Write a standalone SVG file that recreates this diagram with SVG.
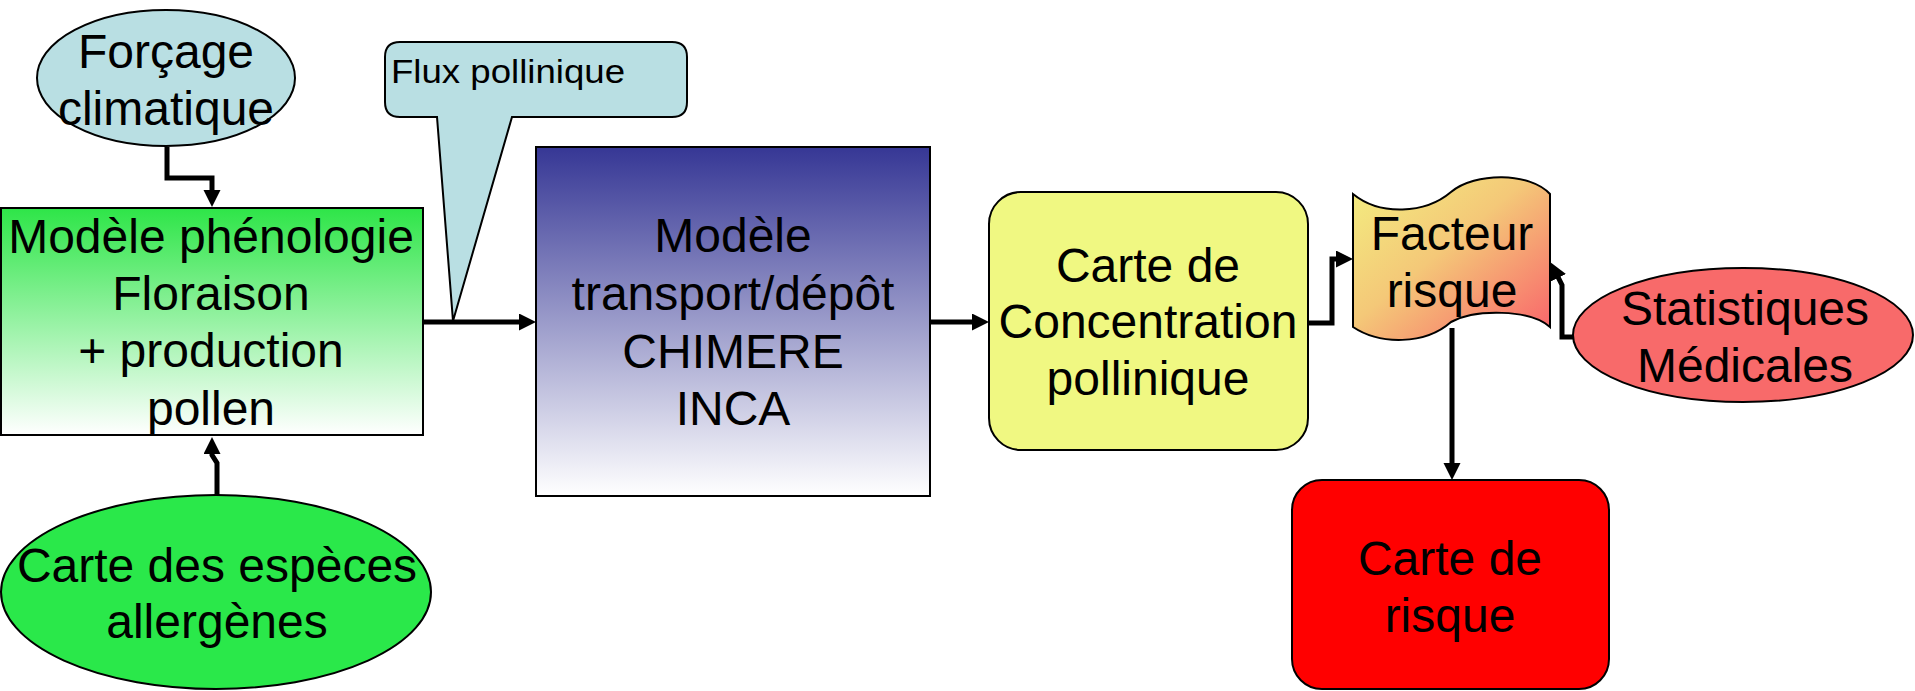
<svg xmlns="http://www.w3.org/2000/svg" width="1915" height="691" viewBox="0 0 1915 691">
<style>
  .shape { stroke: #000; stroke-width: 2; }
  .lbl { font-family: "Liberation Sans", Arial, sans-serif; font-size: 48px; fill: #000; text-anchor: middle; }
  .conn { fill: none; stroke: #000; stroke-width: 5; marker-end: url(#arrow); }
</style>
<defs>
  <marker id="arrow" markerUnits="userSpaceOnUse" markerWidth="18" markerHeight="18" refX="3" refY="8.5" orient="auto">
    <path d="M0,0 L17,8.5 L0,17 Z" fill="#000"/>
  </marker>
  <linearGradient id="gGreen" x1="0" y1="0" x2="0" y2="1">
    <stop offset="0" stop-color="#2ee548"/>
    <stop offset="1" stop-color="#ffffff"/>
  </linearGradient>
  <linearGradient id="gBlue" x1="0" y1="0" x2="0" y2="1">
    <stop offset="0" stop-color="#363795"/>
    <stop offset="1" stop-color="#ffffff"/>
  </linearGradient>
  <linearGradient id="gOrange" x1="0" y1="0" x2="1" y2="1">
    <stop offset="0" stop-color="#f3ef80"/>
    <stop offset="0.45" stop-color="#f4c878"/>
    <stop offset="1" stop-color="#f9606a"/>
  </linearGradient>
</defs>

<g id="connectors">
  <path class="conn" d="M167,147 V178 H212 V193"/>
  <path class="conn" d="M217,495 V463 L212,455 V451"/>
  <path class="conn" d="M423,322 H522"/>
  <path class="conn" d="M930,322 H975"/>
  <path class="conn" d="M1308,323 H1332 V259 H1339"/>
  <path class="conn" d="M1452,328 V466"/>
  <path class="conn" d="M1573,337 H1562 V285 L1557,275"/>
</g>

<g id="forcage">
  <ellipse class="shape" cx="166" cy="78" rx="129" ry="68" fill="#b9dfe3"/>
  <text class="lbl" x="166" y="68">Forçage</text>
  <text class="lbl" x="166" y="125">climatique</text>
</g>

<g id="flux">
  <path class="shape" fill="#b9dfe3" d="M400,42 H672 Q687,42 687,57 V102 Q687,117 672,117 H512 L453,321 L437,117 H400 Q385,117 385,102 V57 Q385,42 400,42 Z"/>
  <text x="391" y="83" font-family="Liberation Sans, Arial, sans-serif" font-size="33" textLength="234" lengthAdjust="spacingAndGlyphs">Flux pollinique</text>
</g>

<g id="phenologie">
  <rect class="shape" x="1" y="208" width="422" height="227" fill="url(#gGreen)"/>
  <text class="lbl" x="211" y="253">Modèle phénologie</text>
  <text class="lbl" x="211" y="310">Floraison</text>
  <text class="lbl" x="211" y="367">+ production</text>
  <text class="lbl" x="211" y="425">pollen</text>
</g>

<g id="especes">
  <ellipse class="shape" cx="216" cy="592" rx="215" ry="97" fill="#2ae84a"/>
  <text class="lbl" x="217" y="582">Carte des espèces</text>
  <text class="lbl" x="217" y="638">allergènes</text>
</g>

<g id="chimere">
  <rect class="shape" x="536" y="147" width="394" height="349" fill="url(#gBlue)"/>
  <text class="lbl" x="733" y="252">Modèle</text>
  <text class="lbl" x="733" y="310">transport/dépôt</text>
  <text class="lbl" x="733" y="368">CHIMERE</text>
  <text class="lbl" x="733" y="425">INCA</text>
</g>

<g id="concentration">
  <rect class="shape" x="989" y="192" width="319" height="258" rx="32" ry="32" fill="#f0f882"/>
  <text class="lbl" x="1148" y="282">Carte de</text>
  <text class="lbl" x="1148" y="338">Concentration</text>
  <text class="lbl" x="1148" y="395">pollinique</text>
</g>

<g id="facteur">
  <path class="shape" fill="url(#gOrange)" d="M1353,194 C1380,216 1425,214 1451,192 C1475,172 1530,172 1550,194 V327 C1530,309 1475,309 1451,322 C1425,345 1380,345 1353,327 Z"/>
  <text class="lbl" x="1452" y="250">Facteur</text>
  <text class="lbl" x="1452" y="307">risque</text>
</g>

<g id="statistiques">
  <ellipse class="shape" cx="1743" cy="335" rx="170" ry="67" fill="#f86a6a"/>
  <text class="lbl" x="1745" y="325">Statistiques</text>
  <text class="lbl" x="1745" y="382">Médicales</text>
</g>

<g id="risque">
  <rect class="shape" x="1292" y="480" width="317" height="209" rx="30" ry="30" fill="#ff0000"/>
  <text class="lbl" x="1450" y="575">Carte de</text>
  <text class="lbl" x="1450" y="632">risque</text>
</g>
</svg>
